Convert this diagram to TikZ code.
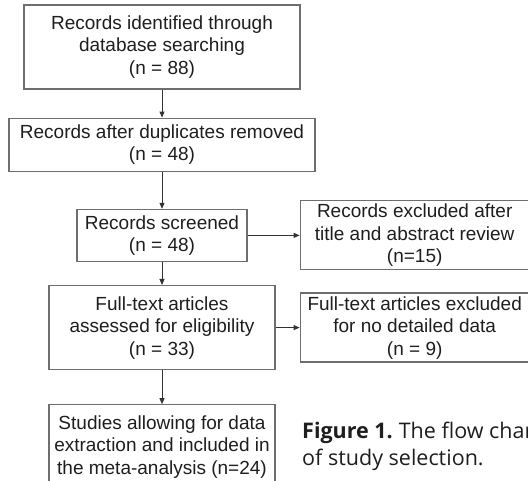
\documentclass[tikz,border=0pt]{standalone}
\usepackage{fontspec}
\setmainfont{Liberation Sans}
\newfontfamily\captionfont{Open Sans}
\usetikzlibrary{arrows.meta,positioning}
\definecolor{boxline}{RGB}{110,110,110}
\definecolor{inktext}{RGB}{30,30,30}

\begin{document}
\begin{tikzpicture}[
    x=1pt, y=1pt,
    node distance=28pt,
    stage/.style={rectangle, draw=boxline, line width=1.2pt, align=center, inner sep=0pt,
                 font=\fontsize{19}{22.5}\selectfont, text=inktext},
    arr/.style={-{Triangle[length=6pt,width=5pt]}, line width=0.9pt, black!80}
]
\useasboundingbox (0,0) rectangle (528,-481);
\clip (0,0) rectangle (528,-481);
% main column
\node[stage, minimum width=276pt, minimum height=84pt] (s1) at (162,-47)
    {Records identified through\\database searching\\(n = 88)};
\node[stage, minimum width=306pt, minimum height=53pt, below=28pt of s1] (s2)
    {Records after duplicates removed\\(n = 48)};
\node[stage, minimum width=170pt, minimum height=52pt, below=37pt of s2] (s3)
    {Records screened\\(n = 48)};
\node[stage, minimum width=226pt, minimum height=84pt, below=23pt of s3] (s5)
    {Full-text articles\\assessed for eligibility\\(n = 33)};
\node[stage, minimum width=226pt, minimum height=84pt, below=34pt of s5] (s7)
    {Studies allowing for data\\extraction and included in\\the meta-analysis (n=24)};
% exclusions
\node[stage, minimum width=229pt, minimum height=69pt, right=52pt of s3] (s4)
    {Records excluded after\\title and abstract review\\(n=15)};
\node[stage, minimum width=229pt, minimum height=69pt, right=24pt of s5] (s6)
    {Full-text articles excluded\\for no detailed data\\(n = 9)};
\draw[arr] (s1)--(s2);
\draw[arr] (s2)--(s3);
\draw[arr] (s3)--(s5);
\draw[arr] (s5)--(s7);
\draw[arr] (s3)--(s4);
\draw[arr] (s5)--(s6);
% caption
\node[anchor=north west, align=left, inner sep=0pt, text=inktext,
      font=\captionfont\fontsize{21.5}{27}\selectfont] (cap) at (302,-422)
    {\textbf{Figure 1.}\hspace{-1.5pt} The flow chart\\of study selection.};
\end{tikzpicture}
\end{document}
